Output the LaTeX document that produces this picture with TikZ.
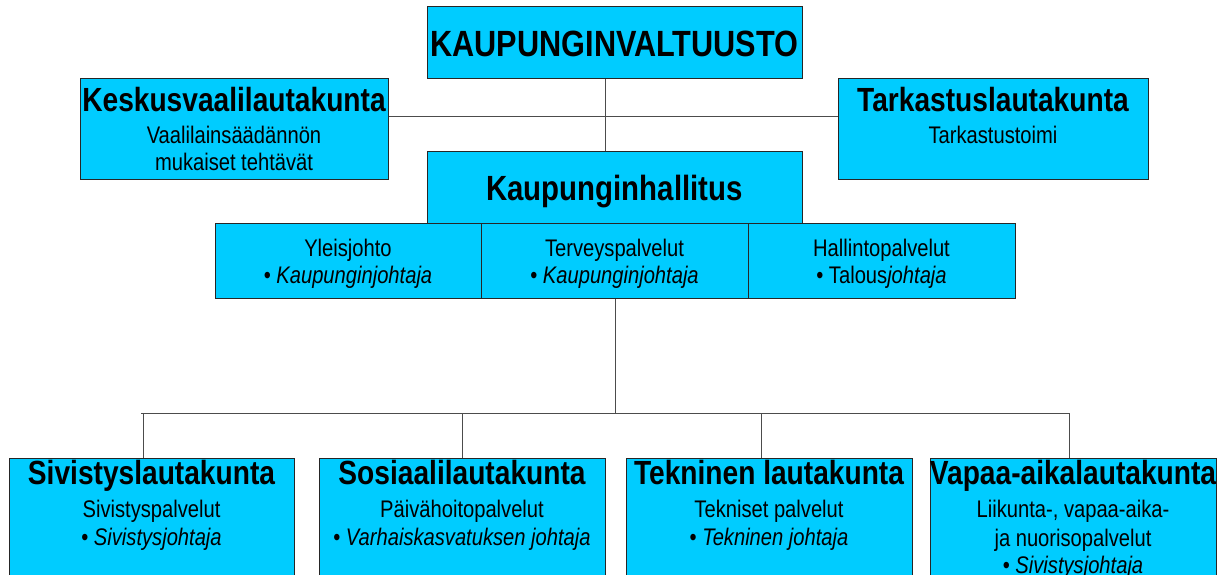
\documentclass[tikz,border=0pt]{standalone}
\usepackage{fontspec}
\setmainfont{Liberation Sans}[FakeStretch=0.84]
\definecolor{boxcyan}{HTML}{00CCFF}
\begin{document}
\begin{tikzpicture}[x=1pt,y=-1pt,
  box/.style={draw=black!85, line width=1pt, fill=boxcyan, rectangle, inner sep=0pt},
  conn/.style={draw=black!70, line width=0.9pt},
  hugetxt/.style={font=\fontsize{36.5}{36.5}\selectfont\bfseries, anchor=base, inner sep=0pt},
  ttl/.style={font=\fontsize{33.5}{33.5}\selectfont\bfseries, anchor=base, inner sep=0pt},
  txt/.style={font=\fontsize{24}{24}\selectfont, anchor=base, inner sep=0pt}]
\useasboundingbox (0,0) rectangle (1226,575);
\clip (0,0) rectangle (1226,575);
% boxes
\node[box, minimum width=375pt, minimum height=72pt] (val) at (614.5,43) {};
\node[box, minimum width=308pt, minimum height=100pt] (kesk) at (234,129) {};
\node[box, minimum width=310pt, minimum height=100pt] (tark) at (993,129) {};
\node[box, minimum width=375pt, minimum height=71pt] (hall) at (614.5,187.5) {};
\node[box, minimum width=266pt, minimum height=75pt] (c1) at (348,260.5) {};
\node[box, minimum width=267pt, minimum height=75pt] (c2) at (614.5,260.5) {};
\node[box, minimum width=267pt, minimum height=75pt] (c3) at (881.5,260.5) {};
\node[box, minimum width=285pt, minimum height=142pt] (b1) at (151.5,529) {};
\node[box, minimum width=286pt, minimum height=142pt] (b2) at (462,529) {};
\node[box, minimum width=286pt, minimum height=142pt] (b3) at (769,529) {};
\node[box, minimum width=286pt, minimum height=142pt] (b4) at (1073,529) {};
% texts
\node[hugetxt] (tval) at (614.5,57) {KAUPUNGINVALTUUSTO};
\node[ttl] (tkesk) at (234,112) {Keskusvaalilautakunta};
\node[txt] (tkesk2) at (234,144) {Vaalilainsäädännön};
\node[txt] (tkesk3) at (234,171) {mukaiset tehtävät};
\node[ttl] (ttark) at (993,112) {Tarkastuslautakunta};
\node[txt] (ttark2) at (993,143) {Tarkastustoimi};
\node[font=\fontsize{35}{35}\selectfont\bfseries, anchor=base, inner sep=0pt] (thall) at (614.5,200) {Kaupunginhallitus};
\node[txt] (tc1a) at (348,256) {Yleisjohto};
\node[txt] (tc1b) at (348,283) {• \textit{Kaupunginjohtaja}};
\node[txt] (tc2a) at (614.5,256) {Terveyspalvelut};
\node[txt] (tc2b) at (614.5,283) {• \textit{Kaupunginjohtaja}};
\node[txt] (tc3a) at (881.5,256) {Hallintopalvelut};
\node[txt] (tc3b) at (881.5,283) {• Talous\textit{johtaja}};
\node[ttl] (tb1) at (151.5,484) {Sivistyslautakunta};
\node[txt] (tb1a) at (151.5,517) {Sivistyspalvelut};
\node[txt] (tb1b) at (151.5,545) {• \textit{Sivistysjohtaja}};
\node[ttl] (tb2) at (462,484) {Sosiaalilautakunta};
\node[txt] (tb2a) at (462,517) {Päivähoitopalvelut};
\node[txt] (tb2b) at (462,545) {• \textit{Varhaiskasvatuksen johtaja}};
\node[ttl] (tb3) at (769,484) {Tekninen lautakunta};
\node[txt] (tb3a) at (769,517) {Tekniset palvelut};
\node[txt] (tb3b) at (769,545) {• \textit{Tekninen johtaja}};
\node[ttl] (tb4) at (1073,484) {Vapaa-aikalautakunta};
\node[txt] (tb4a) at (1073,517) {Liikunta-, vapaa-aika-};
\node[txt] (tb4b) at (1073,546) {ja nuorisopalvelut};
\node[txt] (tb4c) at (1073,573) {• \textit{Sivistysjohtaja}};
% connectors
\coordinate (j1) at (605,116);
\coordinate (bus) at (615,413);
\coordinate (d1) at (143,413);
\coordinate (d2) at (462,413);
\coordinate (d3) at (761,413);
\coordinate (d4) at (1069,413);
\draw[conn] (kesk.east |- j1) -- (tark.west |- j1);
\draw[conn] (val.south -| j1) -- (hall.north -| j1);
\draw[conn] (c2.south -| bus) -- (bus);
\draw[conn] ([xshift=-2pt]d1) -- (d4);
\draw[conn] (d1) -- (d1 |- b1.north);
\draw[conn] (d2) -- (d2 |- b2.north);
\draw[conn] (d3) -- (d3 |- b3.north);
\draw[conn] (d4) -- (d4 |- b4.north);
\end{tikzpicture}
\end{document}
